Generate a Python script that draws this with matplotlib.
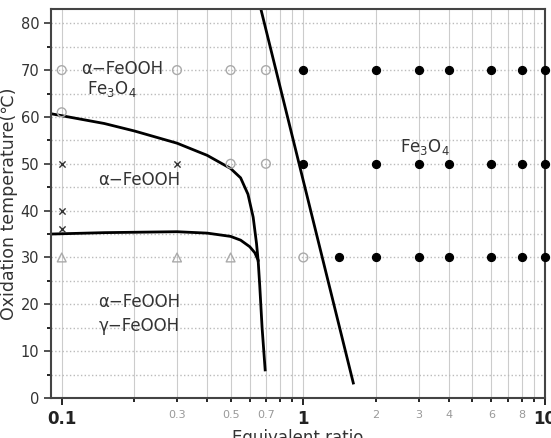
import matplotlib.pyplot as plt
from matplotlib.ticker import FixedLocator, NullFormatter, MultipleLocator

# open gray circles
oc_x = [0.1, 0.3, 0.5, 0.7, 0.1, 0.5, 0.7, 1.0]
oc_y = [70, 70, 70, 70, 61, 50, 50, 30]
# crosses
cr_x = [0.1, 0.3, 0.1, 0.1]
cr_y = [50, 50, 40, 36]
# open triangles
tr_x = [0.1, 0.3, 0.5]
tr_y = [30, 30, 30]
# filled black circles
fc_x = [1, 2, 3, 4, 6, 8, 10,
        1, 2, 3, 4, 6, 8, 10,
        1.4, 2, 3, 4, 6, 8, 10]
fc_y = [70] * 7 + [50] * 7 + [30] * 7

# boundary curves
upper_x = [0.09, 0.15, 0.2, 0.3, 0.4, 0.5, 0.55, 0.59, 0.62, 0.64, 0.65]
upper_y = [60.7, 58.6, 57.0, 54.4, 51.8, 49.0, 47.0, 43.5, 38.6, 33.0, 29.4]
lower_x = [0.09, 0.15, 0.3, 0.4, 0.5, 0.55, 0.6, 0.63, 0.65, 0.66, 0.675, 0.695]
lower_y = [35.0, 35.3, 35.5, 35.2, 34.5, 33.7, 32.3, 31.0, 29.4, 24.0, 15.0, 6.0]
steep_x = [0.66, 1.61]
steep_y = [84.0, 3.2]

minor_lab = [0.3, 0.5, 0.7, 2, 3, 4, 6, 8]

fig = plt.figure(figsize=(5.51, 4.38), dpi=100)
ax = fig.add_axes([0.0926, 0.0913, 0.8964, 0.8877])
ax.set_xscale('log')
ax.set_xlim(0.0903, 10)
ax.set_ylim(0, 83)

ax.xaxis.set_major_locator(FixedLocator([0.1, 1, 10]))
ax.xaxis.set_minor_locator(FixedLocator([0.2, 0.3, 0.4, 0.5, 0.6, 0.7, 0.8, 0.9,
                                         2, 3, 4, 5, 6, 7, 8, 9]))
ax.xaxis.set_minor_formatter(NullFormatter())
ax.set_xticklabels(['0.1', '1', '10'], fontsize=12, fontweight='bold', color='#222222')
for v in minor_lab:
    ax.text(v, -2.6, str(v), ha='center', va='top', fontsize=8, color='#999999')

ax.yaxis.set_major_locator(MultipleLocator(10))
ax.yaxis.set_minor_locator(MultipleLocator(5))
ax.tick_params(axis='y', labelsize=10.5, colors='#333333')
ax.tick_params(which='major', direction='out', length=5, width=1.2)
ax.tick_params(which='minor', direction='out', length=3, width=1.2)

ax.grid(True, which='both', color='#bbbbbb', linestyle=':', linewidth=1)
ax.xaxis.grid(True, which='both', color='#cccccc', linestyle='-', linewidth=0.8)
ax.set_axisbelow(True)
for s in ax.spines.values():
    s.set_linewidth(1.5)
    s.set_color('#444444')

ax.plot(upper_x, upper_y, color='black', lw=2)
ax.plot(lower_x, lower_y, color='black', lw=2)
ax.plot(steep_x, steep_y, color='black', lw=2)

ax.scatter(oc_x, oc_y, s=40, facecolors='none', edgecolors='#aaaaaa', lw=1, zorder=3)
ax.scatter(cr_x, cr_y, s=20, marker='x', color='#333333', lw=1, zorder=3)
ax.scatter(tr_x, tr_y, s=40, marker='^', facecolors='none', edgecolors='#aaaaaa', lw=1, zorder=3)
ax.scatter(fc_x, fc_y, s=32, color='black', zorder=3, clip_on=False)

tc = '#333333'
ax.text(0.178, 70.3, 'α−FeOOH', fontsize=12, color=tc, ha='center', va='center')
ax.text(0.162, 66.0, 'Fe$_3$O$_4$', fontsize=12, color=tc, ha='center', va='center')
ax.text(0.21, 46.5, 'α−FeOOH', fontsize=12, color=tc, ha='center', va='center')
ax.text(3.2, 53.5, 'Fe$_3$O$_4$', fontsize=12, color=tc, ha='center', va='center')
ax.text(0.21, 20.5, 'α−FeOOH', fontsize=12, color=tc, ha='center', va='center')
ax.text(0.21, 15.4, 'γ−FeOOH', fontsize=12, color=tc, ha='center', va='center')

ax.set_ylabel('Oxidation temperature(℃)', fontsize=12.5, color=tc, labelpad=2)
ax.set_xlabel('Equivalent ratio', fontsize=12, color=tc, labelpad=1)

fig.savefig('out.png', dpi=100)
